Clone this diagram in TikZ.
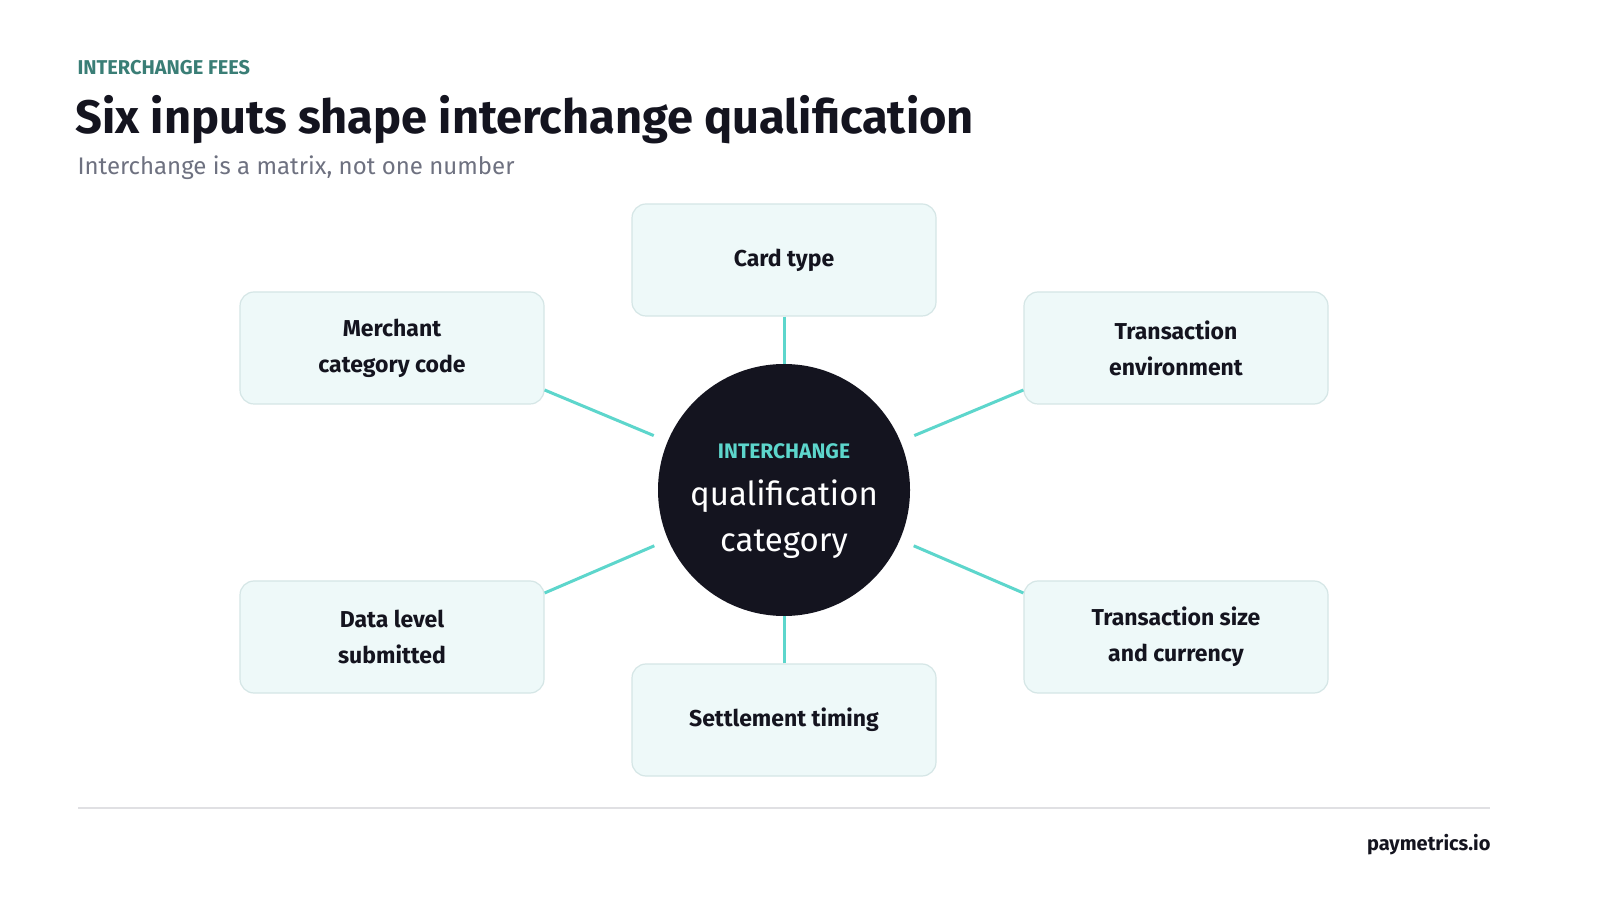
\documentclass[tikz,border=0pt]{standalone}
\usepackage{fontspec}
\setmainfont{Fira Sans}
\usetikzlibrary{positioning}
\definecolor{ink}{HTML}{14141F}
\definecolor{tealtag}{HTML}{3A7E76}
\definecolor{subgray}{HTML}{6E7180}
\definecolor{boxfill}{HTML}{EEF9F9}
\definecolor{boxline}{HTML}{D5E6E6}
\definecolor{spoke}{HTML}{5DD6CC}
\definecolor{rulegray}{HTML}{E0E0E3}
\tikzset{
	input/.style={draw=boxline, line width=1.2pt, fill=boxfill, rounded corners=14pt,
		minimum width=304pt, minimum height=112pt, align=center, text=ink,
		font=\fontsize{23}{36}\selectfont\bfseries},
	spokeline/.style={draw=spoke, line width=3pt},
}
\begin{document}
\begin{tikzpicture}[x=1pt,y=1pt]
	\useasboundingbox[fill=white] (0,0) rectangle (1600,900);
	% header
	\node[anchor=west, text=tealtag, font=\fontsize{20}{24}\selectfont\bfseries] (tag) at (74,832) {INTERCHANGE FEES};
	\node[anchor=west, text=ink, font=\fontsize{47}{56}\selectfont\bfseries] (title) at (72,780) {Six inputs shape interchange qualification};
	\node[anchor=west, text=subgray, font=\fontsize{24}{28}\selectfont] (sub) at (74,732) {Interchange is a matrix, not one number};
	% hub
	\node[circle, fill=ink, minimum size=252pt, inner sep=0pt, align=center] (hub) at (784,410) {};
	\node[text=spoke, font=\fontsize{21}{24}\selectfont\bfseries] (hubtag) at (784,449) {INTERCHANGE};
	\node[text=white, align=center, font=\fontsize{33}{46}\selectfont] (hubtxt) at (784,381) {qualification\\category};
	% inputs
	\node[input] (card) at (784,640) {Card type};
	\node[input] (merch) at (392,552) {Merchant\\category code};
	\node[input] (env) at (1176,552) {Transaction\\environment};
	\node[input] (data) at (392,263) {Data level\\submitted};
	\node[input] (size) at (1176,263) {Transaction size\\and currency};
	\node[input] (settle) at (784,180) {Settlement timing};
	% spokes
	\draw[spokeline] (card) -- (hub);
	\draw[spokeline] (settle) -- (hub);
	\draw[spokeline, shorten >=15pt] ([yshift=-42pt]merch.east) -- (hub);
	\draw[spokeline, shorten >=15pt] ([yshift=-42pt]env.west) -- (hub);
	\draw[spokeline, shorten >=15pt] ([yshift=44pt]data.east) -- (hub);
	\draw[spokeline, shorten >=15pt] ([yshift=44pt]size.west) -- (hub);
	% footer
	\coordinate (rl) at (78,92);
	\coordinate (rr) at (1490,92);
	\draw[rulegray, line width=1.5pt] (rl) -- (rr);
	\node[anchor=east, text=ink, font=\fontsize{20}{24}\selectfont\bfseries] (brand) at (1494,55) {paymetrics.io};
\end{tikzpicture}
\end{document}
